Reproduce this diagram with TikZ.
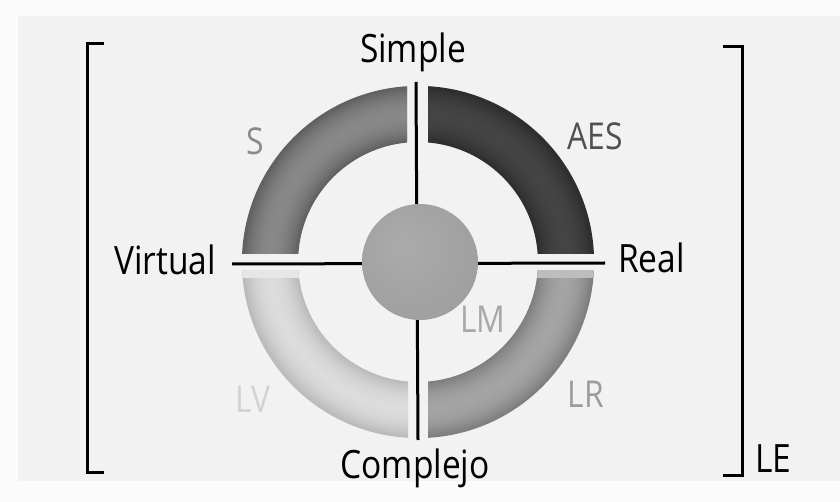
\documentclass[tikz,border=0pt]{standalone}
\usepackage{fontspec}
\setmainfont{Open Sans}
\definecolor{outerbg}{HTML}{FBFBFB}
\definecolor{panelbg}{HTML}{F2F2F2}
\definecolor{smid}{HTML}{888888}
\definecolor{sedge}{HTML}{5E5E5E}
\definecolor{amid}{HTML}{444444}
\definecolor{aedge}{HTML}{2C2C2C}
\definecolor{vmid}{HTML}{DCDCDC}
\definecolor{vedge}{HTML}{B8B8B8}
\definecolor{rmid}{HTML}{A4A4A4}
\definecolor{redge}{HTML}{7C7C7C}
\definecolor{vcap}{HTML}{E6E6E6}
\definecolor{rcap}{HTML}{BDBDBD}
\definecolor{cirin}{HTML}{ABABAB}
\definecolor{cirmid}{HTML}{A0A0A0}
\definecolor{cirout}{HTML}{8A8A8A}
\definecolor{stext}{HTML}{8A8A8A}
\definecolor{atext}{HTML}{505050}
\definecolor{mtext}{HTML}{A8A8A8}
\definecolor{rtext}{HTML}{9C9C9C}
\definecolor{vtext}{HTML}{D2D2D2}
\pgfdeclareradialshading{orb}{\pgfpoint{-8bp}{8bp}}{color(0bp)=(cirin); color(28bp)=(cirmid); color(50bp)=(cirout)}
\begin{document}
\begin{tikzpicture}[x=1pt,y=-1pt,
  lbl/.style={font=\fontsize{39}{41}\selectfont, inner sep=0pt, xscale=0.86},
  sublbl/.style={font=\fontsize{37}{39}\selectfont, inner sep=0pt, xscale=0.86},
  rulestroke/.style={line width=3pt, black}]
\useasboundingbox (0,0) rectangle (840,502);
\fill[outerbg] (0,0) rectangle (840,502);
\fill[panelbg] (18,16) rectangle (840,481);

% ring quadrants with tube-like radial profile
\newcommand\ringpart[6]{% x1 y1 x2 y2 edge mid
  \begin{scope}
    \clip (#1,#2) rectangle (#3,#4);
    \foreach \r in {121,122.5,...,175} {
      \pgfmathsetmacro\t{100*((\r-148)/28)^2}
      \draw[line width=2.2pt, color=#5!\t!#6] (418,262) circle[radius=\r pt];
    }
  \end{scope}}
\ringpart{200}{60}{407}{254}{sedge}{smid}
\ringpart{428}{60}{640}{254}{aedge}{amid}
\ringpart{200}{271}{408}{460}{vedge}{vmid}
\ringpart{428}{271}{640}{460}{redge}{rmid}
% light top caps of the lower parts
\begin{scope}
  \clip (200,271) rectangle (408,278);
  \fill[vcap, even odd rule] (418,262) circle[radius=176pt] circle[radius=120pt];
\end{scope}
\begin{scope}
  \clip (428,271) rectangle (640,278);
  \fill[rcap, even odd rule] (418,262) circle[radius=176pt] circle[radius=120pt];
\end{scope}

% axes
\coordinate (vtop) at (416,82);
\coordinate (vbot) at (418,440);
\coordinate (hleft) at (232,264);
\coordinate (hright) at (605,263);
\draw[rulestroke] (vtop) -- (vbot);
\draw[rulestroke] (hleft) -- (hright);

% centre
\shade[shading=orb] (420,262) circle[radius=58pt];

% brackets
\draw[rulestroke] (104,44) -- (87,44) -- (87,472) -- (104,472);
\draw[rulestroke] (723,47) -- (742,47) -- (742,475) -- (723,475);

% labels
\node[lbl, anchor=base] (simple) at (413,63) {Simple};
\node[lbl, anchor=base] (complejo) at (415,478) {Complejo};
\node[lbl, anchor=base east] (virtual) at (216,275) {Virtual};
\node[lbl, anchor=base west] (real) at (618,273) {Real};
\node[lbl, anchor=base west] (le) at (755,472) {LE};
\node[sublbl, anchor=base, text=stext] (s) at (255,155) {S};
\node[sublbl, anchor=base, text=atext] (aes) at (595,150) {AES};
\node[sublbl, anchor=base, text=mtext] (lm) at (483,332) {LM};
\node[sublbl, anchor=base, text=rtext] (lr) at (586,407) {LR};
\node[sublbl, anchor=base, text=vtext] (lv) at (253,412) {LV};
\end{tikzpicture}
\end{document}
